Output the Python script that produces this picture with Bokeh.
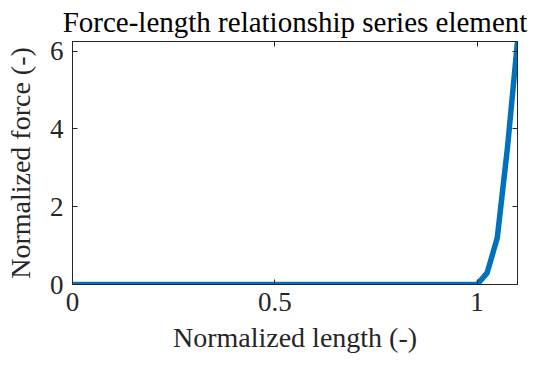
from bokeh.plotting import figure
from bokeh.models import LinearAxis, Range1d, FixedTicker
from bokeh.embed import file_html
from bokeh.resources import INLINE

# Data
length = [0.0, 1.0, 1.025, 1.05, 1.075, 1.1]
force = [0.0, 0.0, 0.3, 1.2, 3.5, 6.25]
x_ticks = [0, 0.5, 1]
y_ticks = [0, 2, 4, 6]

FONT = "Liberation Serif"
AX = "#262626"

p = figure(width=549, height=365, output_backend="svg", toolbar_location=None,
           x_range=Range1d(0, 1.1), y_range=Range1d(0, 6.25),
           min_border_left=72, min_border_right=32, min_border_top=40, min_border_bottom=81,
           x_axis_label="Normalized length (-)", y_axis_label="Normalized force (-)")
p.title.text = "Force-length relationship series element"
p.title.text_font = FONT
p.title.text_font_size = "29px"
p.title.text_font_style = "normal"
p.title.text_color = "#000000"
p.title.align = "center"
p.title.offset = 0
p.title.standoff = 7

p.grid.visible = False
p.outline_line_color = AX
p.outline_line_width = 1
p.background_fill_color = "white"
p.border_fill_color = "white"

p.line(length, force, line_color="#0072BD", line_width=5.5)

for ax in (p.xaxis[0], p.yaxis[0]):
    ax.axis_line_color = AX
    ax.major_tick_line_color = AX
    ax.major_tick_in = 5
    ax.major_tick_out = 0
    ax.minor_tick_line_color = None
    ax.major_label_text_font = FONT
    ax.major_label_text_font_size = "27px"
    ax.major_label_text_color = AX
    ax.axis_label_text_font = FONT
    ax.axis_label_text_font_size = "28px"
    ax.axis_label_text_font_style = "normal"
    ax.axis_label_text_color = AX

p.xaxis[0].ticker = FixedTicker(ticks=x_ticks)
p.yaxis[0].ticker = FixedTicker(ticks=y_ticks)
p.xaxis[0].major_label_standoff = 8
p.xaxis[0].axis_label_standoff = 8
p.yaxis[0].major_label_standoff = 9
p.yaxis[0].axis_label_standoff = 11

top = LinearAxis(ticker=FixedTicker(ticks=x_ticks),
                 major_label_overrides={t: "" for t in x_ticks},
                 major_tick_in=5, major_tick_out=0, minor_tick_line_color=None,
                 axis_line_color=AX, major_tick_line_color=AX, major_label_standoff=0)
right = LinearAxis(ticker=FixedTicker(ticks=y_ticks),
                   major_label_overrides={t: "" for t in y_ticks},
                   major_tick_in=5, major_tick_out=0, minor_tick_line_color=None,
                   axis_line_color=AX, major_tick_line_color=AX, major_label_standoff=0)
p.add_layout(top, "above")
p.add_layout(right, "right")

open("out.html", "w").write(file_html(p, INLINE))
